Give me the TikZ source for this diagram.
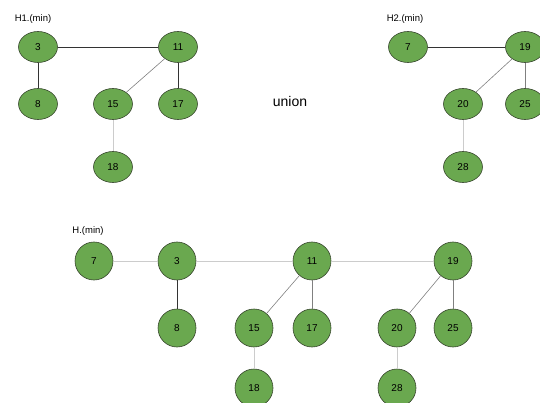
\documentclass[tikz,border=0pt]{standalone}
\usepackage{fontspec}
\setmainfont{Liberation Sans}
\usetikzlibrary{shapes.geometric}
\definecolor{nodegreen}{RGB}{106,168,79}
\definecolor{nodeborder}{RGB}{55,70,45}
\tikzset{
  oval/.style={ellipse, draw=nodeborder, fill=nodegreen, line width=0.6pt, minimum width=39pt, minimum height=31pt, inner sep=0pt, font=\fontsize{10}{11}\selectfont},
  round/.style={circle, draw=nodeborder, fill=nodegreen, line width=0.6pt, minimum size=38pt, inner sep=0pt, font=\fontsize{10}{11}\selectfont},
  lbl/.style={font=\fontsize{9.5}{11}\selectfont, inner sep=0pt},
  darkedge/.style={draw=black!80, line width=0.6pt},
  midedge/.style={draw=black!50, line width=0.6pt},
  lightedge/.style={draw=black!20, line width=0.7pt}
}
\begin{document}
\begin{tikzpicture}[x=1pt,y=-1pt]
\useasboundingbox (0,0) rectangle (540,403);
% H1
\node[lbl] (h1) at (33,19) {H1.(min)};
\node[oval] (a3) at (38,47) {3};
\node[oval] (a11) at (178,47) {11};
\node[oval] (a8) at (38,104) {8};
\node[oval] (a15) at (113,104) {15};
\node[oval] (a17) at (178,104) {17};
\node[oval] (a18) at (113,167) {18};
\draw[darkedge] (a3) -- (a11);
\draw[darkedge] (a3) -- (a8);
\draw[midedge] (a11) -- (a15);
\draw[darkedge] (a11) -- (a17);
\draw[lightedge] (a15) -- (a18);
% union
\node[font=\fontsize{14}{16}\selectfont] (un) at (290,101) {union};
% H2
\node[lbl] (h2) at (405,19) {H2.(min)};
\node[oval] (b7) at (408,47) {7};
\node[oval] (b19) at (525,47) {19};
\node[oval] (b20) at (463,104) {20};
\node[oval] (b25) at (525,104) {25};
\node[oval] (b28) at (463,167) {28};
\draw[darkedge] (b7) -- (b19);
\draw[midedge] (b19) -- (b20);
\draw[midedge] (b19) -- (b25);
\draw[lightedge] (b20) -- (b28);
% H
\node[lbl] (h) at (88,231) {H.(min)};
\node[round] (c7) at (94,261) {7};
\node[round] (c3) at (177,261) {3};
\node[round] (c11) at (312,261) {11};
\node[round] (c19) at (453,261) {19};
\node[round] (c8) at (177,328) {8};
\node[round] (c15) at (254,328) {15};
\node[round] (c17) at (312,328) {17};
\node[round] (c20) at (397,328) {20};
\node[round] (c25) at (453,328) {25};
\node[round] (c18) at (254,388) {18};
\node[round] (c28) at (397,388) {28};
\draw[lightedge] (c7) -- (c3);
\draw[lightedge] (c3) -- (c11);
\draw[lightedge] (c11) -- (c19);
\draw[darkedge] (c3) -- (c8);
\draw[midedge] (c11) -- (c15);
\draw[midedge] (c11) -- (c17);
\draw[midedge] (c19) -- (c20);
\draw[midedge] (c19) -- (c25);
\draw[lightedge] (c15) -- (c18);
\draw[lightedge] (c20) -- (c28);
\end{tikzpicture}
\end{document}
